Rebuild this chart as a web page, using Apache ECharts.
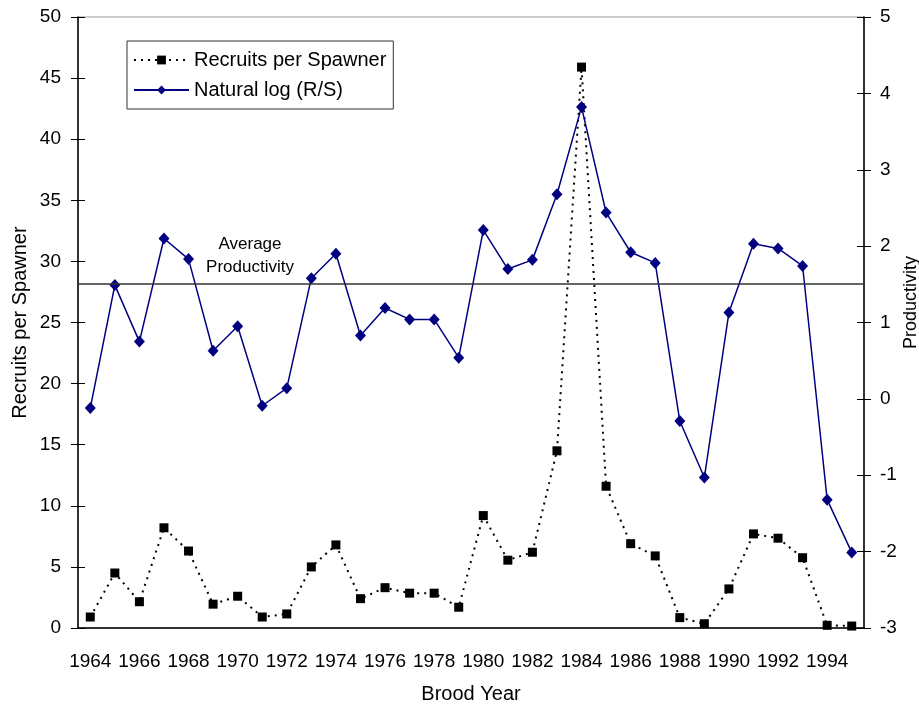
<!DOCTYPE html>
<html>
<head>
<meta charset="utf-8">
<script src="https://cdn.jsdelivr.net/npm/echarts@6/dist/echarts.min.js"></script>
<style>
  html, body { margin: 0; padding: 0; background: #fff; }
  #main { width: 919px; height: 704px; }
</style>
</head>
<body>
<div id="main"></div>
<script>
// brood years
const years = [];
for (let y = 1964; y <= 1995; y++) years.push(String(y));

// recruits per spawner (left axis)
const recruits = [0.9, 4.5, 2.15, 8.2, 6.3, 1.95, 2.6, 0.9, 1.15, 5.0, 6.8, 2.4,
  3.3, 2.85, 2.85, 1.7, 9.2, 5.55, 6.2, 14.5, 45.9, 11.6, 6.9, 5.9,
  0.85, 0.35, 3.2, 7.7, 7.35, 5.75, 0.22, 0.16];

// natural log (R/S) (right axis)
const lnRS = [-0.12, 1.49, 0.75, 2.1, 1.83, 0.63, 0.95, -0.09, 0.14, 1.58, 1.9, 0.83,
  1.19, 1.04, 1.04, 0.54, 2.21, 1.7, 1.82, 2.68, 3.82, 2.44, 1.92, 1.78,
  -0.29, -1.03, 1.13, 2.03, 1.97, 1.74, -1.32, -2.01];

const avgProductivity = 1.51;

const font = 'Liberation Sans, Arial, sans-serif';
const chart = echarts.init(document.getElementById('main'));

// tick marks cross the axis line: an outer tick from the real axis, an inner one from a bare twin
const tickStyle = { color: '#000', width: 1 };
const bareY = (min, max, interval, position) => ({
  type: 'value', min, max, interval, position,
  axisLine: { show: false },
  axisTick: { show: true, inside: true, length: 7, lineStyle: tickStyle },
  axisLabel: { show: false },
  splitLine: { show: false }
});

const option = {
  animation: false,
  textStyle: { fontFamily: font },
  grid: {
    left: 78, right: 55, top: 17, bottom: 76,
    outerBoundsMode: 'none',
    containLabel: false,
    show: true, borderColor: '#999', borderWidth: 1
  },
  legend: {
    orient: 'vertical',
    left: 127, top: 41,
    itemWidth: 55, itemHeight: 11,
    itemGap: 10,
    padding: [9, 7, 9, 6],
    borderColor: '#333', borderWidth: 1,
    textStyle: { fontSize: 20, color: '#000', fontFamily: font },
    data: ['Recruits per Spawner', 'Natural log (R/S)']
  },
  xAxis: [
    {
      type: 'category',
      data: years,
      name: 'Brood Year',
      nameLocation: 'middle',
      nameGap: 56,
      nameMoveOverlap: false,
      nameTextStyle: { fontSize: 20, color: '#000' },
      axisLine: { lineStyle: { color: '#000', width: 1.5 } },
      axisTick: { interval: 0, length: 7, lineStyle: tickStyle },
      axisLabel: { interval: 1, fontSize: 19, color: '#000', margin: 24 }
    },
    {
      type: 'category',
      data: years,
      position: 'bottom',
      axisLine: { show: false },
      axisTick: { interval: 0, inside: true, length: 7, lineStyle: tickStyle },
      axisLabel: { show: false }
    }
  ],
  yAxis: [
    {
      type: 'value',
      min: 0, max: 50, interval: 5,
      name: 'Recruits per Spawner',
      nameLocation: 'middle',
      nameGap: 48,
      nameMoveOverlap: false,
      nameTextStyle: { fontSize: 20, color: '#000' },
      axisLine: { show: true, lineStyle: { color: '#000', width: 1.5 } },
      axisTick: { show: true, length: 7, lineStyle: tickStyle },
      axisLabel: { fontSize: 19, color: '#000', margin: 17 },
      splitLine: { show: false }
    },
    {
      type: 'value',
      min: -3, max: 5, interval: 1,
      position: 'right',
      name: 'Productivity',
      nameLocation: 'middle',
      nameGap: 38,
      nameMoveOverlap: false,
      nameRotate: 90,
      nameTextStyle: { fontSize: 18, color: '#000', padding: [0, 0, 0, 40] },
      axisLine: { show: true, lineStyle: { color: '#000', width: 1.5 } },
      axisTick: { show: true, length: 7, lineStyle: tickStyle },
      axisLabel: { fontSize: 19, color: '#000', margin: 16 },
      splitLine: { show: false }
    },
    bareY(0, 50, 5, 'left'),
    bareY(-3, 5, 1, 'right')
  ],
  series: [
    {
      name: 'Recruits per Spawner',
      type: 'line',
      yAxisIndex: 0,
      data: recruits,
      symbol: 'rect',
      symbolSize: 9,
      itemStyle: { color: '#000' },
      lineStyle: { color: '#000', width: 2, type: [2, 5] },
      z: 3
    },
    {
      name: 'Natural log (R/S)',
      type: 'line',
      yAxisIndex: 1,
      data: lnRS,
      symbol: 'diamond',
      symbolSize: [11, 12],
      itemStyle: { color: '#000080' },
      lineStyle: { color: '#000080', width: 1.5 },
      z: 4,
      markLine: {
        silent: true,
        symbol: 'none',
        label: { show: false },
        lineStyle: { color: '#333', type: 'solid', width: 1.5 },
        data: [{ yAxis: avgProductivity }]
      }
    }
  ],
  graphic: [
    {
      type: 'text',
      x: 250, y: 233,
      style: {
        text: 'Average\nProductivity',
        fontSize: 17,
        lineHeight: 23,
        fontFamily: font,
        fill: '#000',
        align: 'center'
      }
    }
  ]
};

chart.setOption(option);
window.addEventListener('resize', function () {
  chart.resize();
});
</script>
</body>
</html>
